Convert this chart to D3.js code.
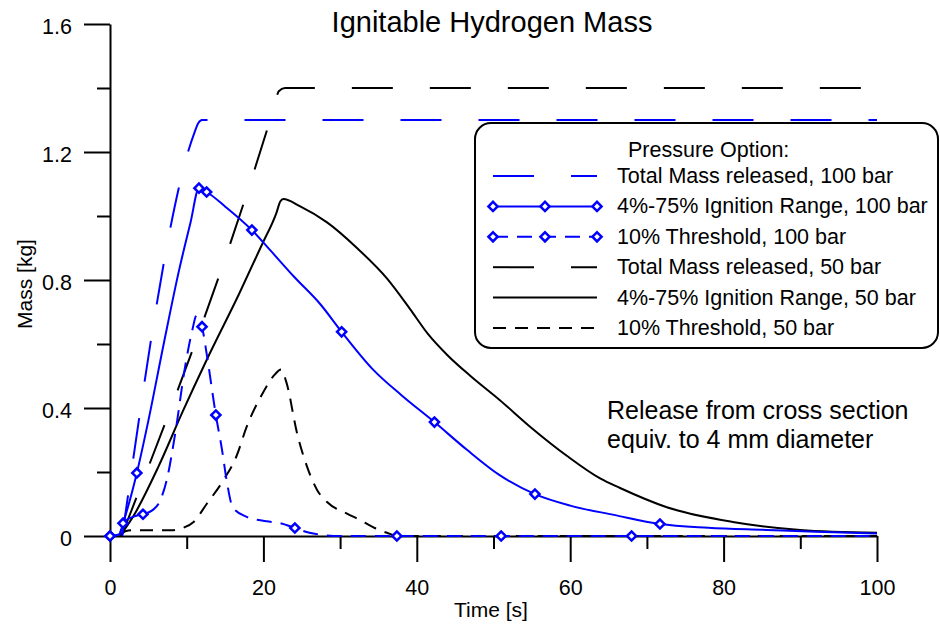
<!DOCTYPE html>
<html>
<head>
<meta charset="utf-8">
<script src="https://cdn.jsdelivr.net/npm/d3@7/dist/d3.min.js"></script>
<style>
  body { margin: 0; background: #fff; }
  svg { display: block; font-family: "Liberation Sans", Arial, Helvetica, sans-serif; }
</style>
</head>
<body>
<svg id="chart" width="940" height="629"></svg>
<script>
// Time [s] / mass [kg]

// Total mass released, 100 bar
var total100T = [1.6, 11.0, 11.5, 12.0, 100];
var total100M = [0, 1.26, 1.29, 1.30, 1.30];

// 4%-75% ignition range, 100 bar
var range100T = [0, 1.2, 1.7, 3.5, 5, 7, 9, 10.5, 11.6, 12.6, 15, 18.5, 21, 24, 27.4, 30.2, 34.3, 38, 42.3, 46.5, 50.8, 55.4, 60, 65.7, 71.7, 78, 85.6, 92, 100];
var range100M = [0, 0.005, 0.04, 0.197, 0.36, 0.6, 0.83, 0.98, 1.087, 1.075, 1.03, 0.956, 0.89, 0.81, 0.725, 0.638, 0.52, 0.44, 0.356, 0.27, 0.19, 0.131, 0.095, 0.066, 0.0375, 0.026, 0.019, 0.013, 0.008];
var range100MarkT = [0, 1.7, 3.5, 11.6, 12.6, 18.5, 30.2, 42.3, 55.4, 71.7];
var range100MarkM = [0, 0.04, 0.197, 1.087, 1.075, 0.956, 0.638, 0.356, 0.131, 0.0375];

// 10% threshold, 100 bar
var thr100T = [0, 1.2, 1.7, 3, 4.3, 5.5, 6.3, 7.4, 8.5, 9.8, 10.7, 11.3, 12.0, 12.6, 13.8, 14.6, 15.2, 16, 17.8, 20.4, 22.2, 24.1, 26, 27.8, 30, 37.4, 51, 68, 100];
var thr100M = [0, 0.005, 0.04, 0.06, 0.068, 0.08, 0.1, 0.175, 0.32, 0.53, 0.64, 0.69, 0.654, 0.57, 0.378, 0.27, 0.175, 0.09, 0.06, 0.046, 0.04, 0.025, 0.01, 0.003, 0, 0, 0, 0, 0];
var thr100MarkT = [0, 4.3, 12.0, 13.8, 24.1, 37.4, 51, 68];
var thr100MarkM = [0, 0.068, 0.654, 0.378, 0.025, 0, 0, 0];

// Total mass released, 50 bar
var total50T = [1.5, 21.5, 22.0, 22.8, 100];
var total50M = [0, 1.35, 1.39, 1.40, 1.40];

// 4%-75% ignition range, 50 bar
var range50T = [1.3, 3, 6.3, 9.5, 12.6, 16.9, 19.8, 21.7, 22.2, 22.6, 24.8, 28.3, 32.2, 36.1, 39.1, 41.5, 44, 47, 50.8, 55, 59.6, 63.9, 66.5, 72.6, 81.2, 90, 100];
var range50M = [0, 0.06, 0.216, 0.39, 0.55, 0.76, 0.91, 1.01, 1.045, 1.053, 1.03, 0.98, 0.90, 0.805, 0.71, 0.63, 0.565, 0.50, 0.425, 0.337, 0.25, 0.18, 0.15, 0.09, 0.044, 0.019, 0.01];

// 10% threshold, 50 bar
var thr50T = [1.3, 2, 3, 8, 9.5, 10.9, 12.6, 14.8, 16.5, 17.8, 20, 21.5, 22.3, 23, 24.4, 25.7, 27, 28.3, 30.9, 32.6, 34.5, 36.1, 37.5, 100];
var thr50M = [0, 0.015, 0.018, 0.018, 0.025, 0.044, 0.10, 0.175, 0.25, 0.34, 0.45, 0.505, 0.52, 0.48, 0.32, 0.216, 0.144, 0.106, 0.07, 0.05, 0.025, 0.01, 0, 0];

var xTicks = [0, 20, 40, 60, 80, 100];
var xMinor = [10, 30, 50, 70, 90];
var yTicks = [0, 0.4, 0.8, 1.2, 1.6];
var yMinor = [0.2, 0.6, 1.0, 1.4];

var legendLabels = [
  "Total Mass released, 100 bar",
  "4%-75% Ignition Range, 100 bar",
  "10% Threshold, 100 bar",
  "Total Mass released, 50 bar",
  "4%-75% Ignition Range, 50 bar",
  "10% Threshold, 50 bar"
];

var BLUE = "#0000ff";
var BLACK = "#000";

function zip(ts, ms) {
  return ts.map(function(t, i) { return [t, ms[i]]; });
}

// series, in legend order; black drawn first so blue sits on top
var series = [
  { pts: zip(total100T, total100M), color: BLUE, dash: "41,37" },
  { pts: zip(range100T, range100M), color: BLUE, dash: null, marks: zip(range100MarkT, range100MarkM) },
  { pts: zip(thr100T, thr100M), color: BLUE, dash: "15,9", marks: zip(thr100MarkT, thr100MarkM) },
  { pts: zip(total50T, total50M), color: BLACK, dash: "41,37" },
  { pts: zip(range50T, range50M), color: BLACK, dash: null },
  { pts: zip(thr50T, thr50M), color: BLACK, dash: "13,9" }
];
series.forEach(function(s, i) { s.label = legendLabels[i]; });

var svg = d3.select("#chart");

var x = d3.scaleLinear().domain([0, 100]).range([110, 877]);
var y = d3.scaleLinear().domain([0, 1.6]).range([536, 24]);

/* Axes */
var fmt = d3.format("~g");

var yAxis = svg.append("g")
  .attr("transform", "translate(" + x(0) + ",0)")
  .call(d3.axisLeft(y).tickValues(yTicks).tickSize(26).tickSizeOuter(0).tickPadding(12).tickFormat(fmt));
svg.append("g")
  .attr("transform", "translate(" + x(0) + ",0)")
  .call(d3.axisLeft(y).tickValues(yMinor).tickSize(13).tickSizeOuter(0).tickFormat(""))
  .select(".domain").remove();

var xAxis = svg.append("g")
  .attr("transform", "translate(0," + y(0) + ")")
  .call(d3.axisBottom(x).tickValues(xTicks).tickSize(26).tickSizeOuter(0).tickPadding(18).tickFormat(fmt));
svg.append("g")
  .attr("transform", "translate(0," + y(0) + ")")
  .call(d3.axisBottom(x).tickValues(xMinor).tickSize(13).tickSizeOuter(0).tickFormat(""))
  .select(".domain").remove();

svg.selectAll(".domain, .tick line")
  .attr("stroke", "#000")
  .attr("stroke-width", 2);
svg.selectAll(".tick text")
  .attr("fill", "#000")
  .style("font-size", "21.5px");
yAxis.selectAll(".tick text").attr("dy", "0.42em");

svg.append("text")
  .attr("x", 491).attr("y", 617)
  .attr("text-anchor", "middle")
  .style("font-size", "21px")
  .text("Time [s]");

svg.append("text")
  .attr("transform", "translate(32,284) rotate(-90)")
  .attr("text-anchor", "middle")
  .style("font-size", "21px")
  .text("Mass [kg]");

svg.append("text")
  .attr("x", 492).attr("y", 32)
  .attr("text-anchor", "middle")
  .style("font-size", "29px")
  .text("Ignitable Hydrogen Mass");

/* Curves */
var line = d3.line()
  .x(function(d) { return x(d[0]); })
  .y(function(d) { return y(d[1]); })
  .curve(d3.curveMonotoneX);

var drawOrder = [3, 4, 5, 0, 1, 2];
drawOrder.forEach(function(i) {
  var s = series[i];
  svg.append("path")
    .datum(s.pts)
    .attr("d", line)
    .attr("fill", "none")
    .attr("stroke", s.color)
    .attr("stroke-width", 2)
    .attr("stroke-dasharray", s.dash);
});

var diamond = d3.symbol(d3.symbolSquare, 42);

function drawMarks(g, pts, px, py) {
  g.selectAll(null)
    .data(pts)
    .enter().append("path")
    .attr("d", diamond)
    .attr("transform", function(d) { return "translate(" + px(d) + "," + py(d) + ") rotate(45)"; })
    .attr("fill", "#fff")
    .attr("stroke", BLUE)
    .attr("stroke-width", 2.5);
}

series.forEach(function(s) {
  if (s.marks) {
    drawMarks(svg.append("g"), s.marks,
      function(d) { return x(d[0]); },
      function(d) { return y(d[1]); });
  }
});

/* Annotation */
var note = svg.append("text")
  .attr("x", 607).attr("y", 419)
  .style("font-size", "25px");
note.append("tspan").attr("x", 607).text("Release from cross section");
note.append("tspan").attr("x", 607).attr("dy", 29).text("equiv. to 4 mm diameter");

/* Legend */
var legend = svg.append("g");
legend.append("rect")
  .attr("x", 475).attr("y", 123)
  .attr("width", 463).attr("height", 225)
  .attr("rx", 16).attr("ry", 16)
  .attr("fill", "#fff")
  .attr("stroke", "#000")
  .attr("stroke-width", 2);

legend.append("text")
  .attr("x", 628).attr("y", 157)
  .style("font-size", "21.5px")
  .text("Pressure Option:");

var rowY = d3.scaleLinear().domain([0, 5]).range([176, 328]);

series.forEach(function(s, i) {
  var ly = rowY(i);
  legend.append("line")
    .attr("x1", 493).attr("x2", 597)
    .attr("y1", ly).attr("y2", ly)
    .attr("stroke", s.color)
    .attr("stroke-width", 2)
    .attr("stroke-dasharray", s.dash);
  if (s.marks) {
    drawMarks(legend.append("g"), [493, 545, 597],
      function(d) { return d; },
      function() { return ly; });
  }
  legend.append("text")
    .attr("x", 617).attr("y", ly + 7)
    .style("font-size", "21.5px")
    .text(s.label);
});
</script>
</body>
</html>
